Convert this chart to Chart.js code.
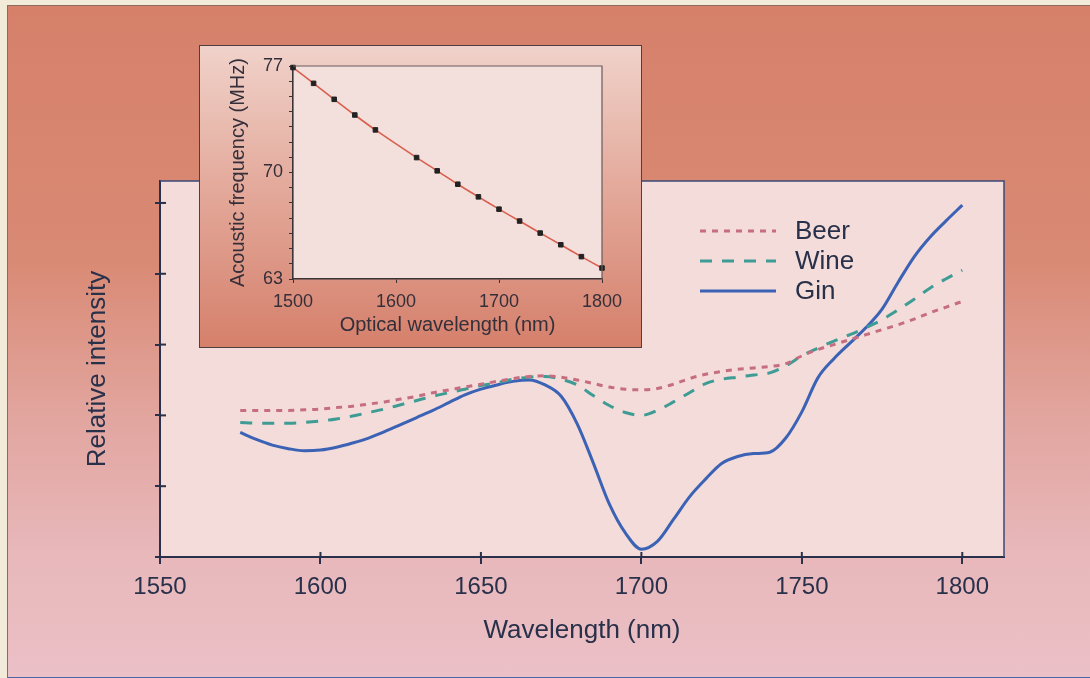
<!DOCTYPE html>
<html>
<head>
<meta charset="utf-8">
<script src="https://cdn.jsdelivr.net/npm/chart.js@4.4.1/dist/chart.umd.min.js"></script>
<style>
  html, body { margin: 0; padding: 0; }
  body {
    width: 1090px; height: 678px; position: relative; overflow: hidden;
    background: #f2ebda;
  }
  #page {
    position: absolute; left: 7px; top: 5px; width: 1083px; height: 671px;
    border-left: 1px solid #8c6b5c; border-top: 1px solid #8c6b5c;
    border-bottom: 2px solid #4a66a8;
    background: linear-gradient(180deg, #d6806a 0%, #d98a74 38%, #e2a6a0 62%, #e8b8bb 82%, #ebc0c6 100%);
  }
  #main { position: absolute; left: 0; top: 0; }
  #insetBox {
    position: absolute; left: 199px; top: 45px; width: 443px; height: 303px;
    box-sizing: border-box; border: 1.5px solid #4d403e;
    background: linear-gradient(180deg, #f0d2ca 0%, #e4ab9d 45%, #d5806b 100%);
  }
  #inset { position: absolute; left: 199px; top: 45px; }
</style>
</head>
<body>
<div id="page"></div>
<canvas id="main" width="1090" height="678"></canvas>
<div id="insetBox"></div>
<canvas id="inset" width="443" height="303"></canvas>
<script>
// main plot: relative intensity vs wavelength
const wavelength = [1575, 1580, 1585, 1590, 1595, 1600, 1605, 1610, 1615, 1620,
  1625, 1630, 1635, 1640, 1645, 1650, 1655, 1660, 1665, 1670,
  1675, 1680, 1685, 1690, 1695, 1700, 1705, 1710, 1715, 1720,
  1725, 1730, 1735, 1740, 1745, 1750, 1755, 1760, 1765, 1770,
  1775, 1780, 1785, 1790, 1795, 1800];
const beer = [2.07, 2.07, 2.07, 2.07, 2.08, 2.09, 2.11, 2.13, 2.16, 2.19,
  2.23, 2.27, 2.32, 2.36, 2.40, 2.44, 2.48, 2.52, 2.55, 2.56,
  2.54, 2.50, 2.45, 2.40, 2.37, 2.36, 2.38, 2.44, 2.52, 2.58,
  2.62, 2.65, 2.67, 2.69, 2.73, 2.84, 2.93, 3.00, 3.07, 3.14,
  3.21, 3.28, 3.36, 3.45, 3.53, 3.61];
const wine = [1.90, 1.89, 1.89, 1.89, 1.90, 1.92, 1.95, 1.99, 2.04, 2.09,
  2.15, 2.21, 2.27, 2.32, 2.37, 2.42, 2.46, 2.51, 2.54, 2.55,
  2.51, 2.43, 2.28, 2.14, 2.04, 2.00, 2.07, 2.19, 2.32, 2.45,
  2.51, 2.54, 2.57, 2.60, 2.70, 2.84, 2.95, 3.05, 3.14, 3.24,
  3.35, 3.49, 3.64, 3.80, 3.93, 4.05];
const gin = [1.76, 1.66, 1.58, 1.53, 1.50, 1.51, 1.55, 1.61, 1.68, 1.77,
  1.87, 1.97, 2.07, 2.18, 2.29, 2.37, 2.43, 2.48, 2.50, 2.43,
  2.27, 1.88, 1.33, 0.75, 0.34, 0.11, 0.22, 0.53, 0.85, 1.10,
  1.32, 1.42, 1.46, 1.48, 1.68, 2.05, 2.53, 2.80, 3.02, 3.24,
  3.50, 3.88, 4.24, 4.52, 4.75, 4.97];

// inset: acoustic frequency vs optical wavelength
const insetWavelength = [1500, 1520, 1540, 1560, 1580, 1620, 1640, 1660, 1680,
  1700, 1720, 1740, 1760, 1780, 1800];
const insetFrequency = [76.9, 75.86, 74.81, 73.78, 72.8, 70.98, 70.11, 69.23, 68.4,
  67.59, 66.81, 66.02, 65.25, 64.47, 63.72];
const insetLabelled = [63, 70, 77];

const family = '"Liberation Sans", Arial, Helvetica, sans-serif';
const ink = '#28304a';
const insetInk = '#352f3a';

const pts = (xs, ys) => xs.map((x, i) => ({x: x, y: ys[i]}));

// fills the plot box, draws its frame, inner tick halves and the legend
const mainDecor = {
  id: 'mainDecor',
  beforeDraw(chart) {
    const {ctx, chartArea: a} = chart;
    ctx.save();
    ctx.fillStyle = '#f3dcd9';
    ctx.fillRect(a.left, a.top, a.right - a.left, a.bottom - a.top);
    ctx.restore();
  },
  afterDraw(chart) {
    const {ctx, chartArea: a, scales} = chart;
    ctx.save();
    ctx.strokeStyle = '#3b4a78';
    ctx.lineWidth = 1.5;
    ctx.beginPath();
    ctx.moveTo(a.left, a.top); ctx.lineTo(a.right, a.top); ctx.lineTo(a.right, a.bottom);
    ctx.stroke();
    ctx.strokeStyle = ink;
    ctx.lineWidth = 2;
    scales.x.ticks.forEach(t => {
      const px = scales.x.getPixelForValue(t.value);
      ctx.beginPath(); ctx.moveTo(px, a.bottom); ctx.lineTo(px, a.bottom - 5); ctx.stroke();
    });
    scales.y.ticks.forEach(t => {
      const py = scales.y.getPixelForValue(t.value);
      ctx.beginPath(); ctx.moveTo(a.left, py); ctx.lineTo(a.left + 6, py); ctx.stroke();
    });
    // legend
    chart.data.datasets.forEach((ds, i) => {
      const y = 231 + i * 30;
      ctx.strokeStyle = ds.borderColor;
      ctx.lineWidth = ds.borderWidth;
      ctx.setLineDash(ds.borderDash || []);
      ctx.beginPath(); ctx.moveTo(700, y); ctx.lineTo(776, y); ctx.stroke();
      ctx.setLineDash([]);
      ctx.fillStyle = ink;
      ctx.font = '26px ' + family;
      ctx.textBaseline = 'middle';
      ctx.fillText(ds.label, 795, y + 1);
    });
    ctx.restore();
  }
};

new Chart(document.getElementById('main'), {
  type: 'line',
  data: {
    datasets: [
      {label: 'Beer', data: pts(wavelength, beer), borderColor: '#c66d80', borderWidth: 3, borderDash: [6, 6]},
      {label: 'Wine', data: pts(wavelength, wine), borderColor: '#3e9c95', borderWidth: 3, borderDash: [12, 10]},
      {label: 'Gin', data: pts(wavelength, gin), borderColor: '#3b62b5', borderWidth: 3}
    ]
  },
  options: {
    responsive: false,
    animation: false,
    devicePixelRatio: 1,
    layout: {padding: {left: 80, top: 181, right: 86, bottom: 0}},
    elements: {point: {radius: 0}, line: {cubicInterpolationMode: 'monotone'}},
    plugins: {legend: {display: false}, tooltip: {enabled: false}},
    scales: {
      x: {
        type: 'linear', min: 1550, max: 1813,
        afterFit(s) { s.height = 121; },
        border: {color: ink, width: 2},
        grid: {drawOnChartArea: false, color: ink, lineWidth: 2, tickLength: 7},
        ticks: {stepSize: 50, includeBounds: false, color: ink, padding: 9, maxRotation: 0,
          font: {family: family, size: 24}, callback: v => String(v)},
        title: {display: true, text: 'Wavelength (nm)', color: ink,
          font: {family: family, size: 26}, padding: {top: 0, bottom: 32}}
      },
      y: {
        type: 'linear', min: 0, max: 5.31,
        afterFit(s) { s.width = 80; },
        border: {color: ink, width: 2},
        grid: {drawOnChartArea: false, color: ink, lineWidth: 2, tickLength: 5},
        ticks: {stepSize: 1, includeBounds: false, callback: () => ''},
        title: {display: true, text: 'Relative intensity', color: ink,
          font: {family: family, size: 26}, padding: {top: 2, bottom: 0}}
      }
    }
  },
  plugins: [mainDecor]
});

const insetDecor = {
  id: 'insetDecor',
  beforeDraw(chart) {
    const {ctx, chartArea: a} = chart;
    ctx.save();
    ctx.fillStyle = '#f3dfdb';
    ctx.fillRect(a.left, a.top, a.right - a.left, a.bottom - a.top);
    ctx.restore();
  },
  afterDraw(chart) {
    const {ctx, chartArea: a} = chart;
    ctx.save();
    ctx.strokeStyle = '#6a5a5a';
    ctx.lineWidth = 1.2;
    ctx.beginPath();
    ctx.moveTo(a.left, a.top); ctx.lineTo(a.right, a.top); ctx.lineTo(a.right, a.bottom);
    ctx.stroke();
    ctx.restore();
  }
};

new Chart(document.getElementById('inset'), {
  type: 'line',
  data: {
    datasets: [{
      data: pts(insetWavelength, insetFrequency),
      borderColor: '#d8604f', borderWidth: 1.6, tension: 0.3,
      pointStyle: 'rect', pointRadius: 3.2, pointBackgroundColor: '#222222',
      pointBorderColor: '#222222', pointBorderWidth: 1, clip: false
    }]
  },
  options: {
    responsive: false,
    animation: false,
    devicePixelRatio: 1,
    layout: {padding: {left: 20, top: 21, right: 40, bottom: 0}},
    plugins: {legend: {display: false}, tooltip: {enabled: false}},
    scales: {
      x: {
        type: 'linear', min: 1500, max: 1800,
        afterFit(s) { s.height = 69; },
        border: {color: '#3a3438', width: 1.6},
        grid: {drawOnChartArea: false, color: '#3a3438', tickLength: 4},
        ticks: {stepSize: 100, color: insetInk, padding: 8, maxRotation: 0,
          font: {family: family, size: 18}, callback: v => String(v)},
        title: {display: true, text: 'Optical wavelength (nm)', color: insetInk,
          font: {family: family, size: 20}, padding: {top: 0, bottom: 11}}
      },
      y: {
        type: 'linear', min: 63, max: 77,
        afterFit(s) { s.width = 74; },
        border: {color: '#3a3438', width: 1.6},
        grid: {drawOnChartArea: false, color: '#3a3438', tickLength: 4},
        ticks: {stepSize: 1, autoSkip: false, color: insetInk, padding: 6,
          font: {family: family, size: 18},
          callback: v => insetLabelled.includes(v) ? String(v) : ''},
        title: {display: true, text: 'Acoustic frequency (MHz)', color: insetInk,
          font: {family: family, size: 20}, padding: {top: 7, bottom: 0}}
      }
    }
  },
  plugins: [insetDecor]
});
</script>
</body>
</html>
